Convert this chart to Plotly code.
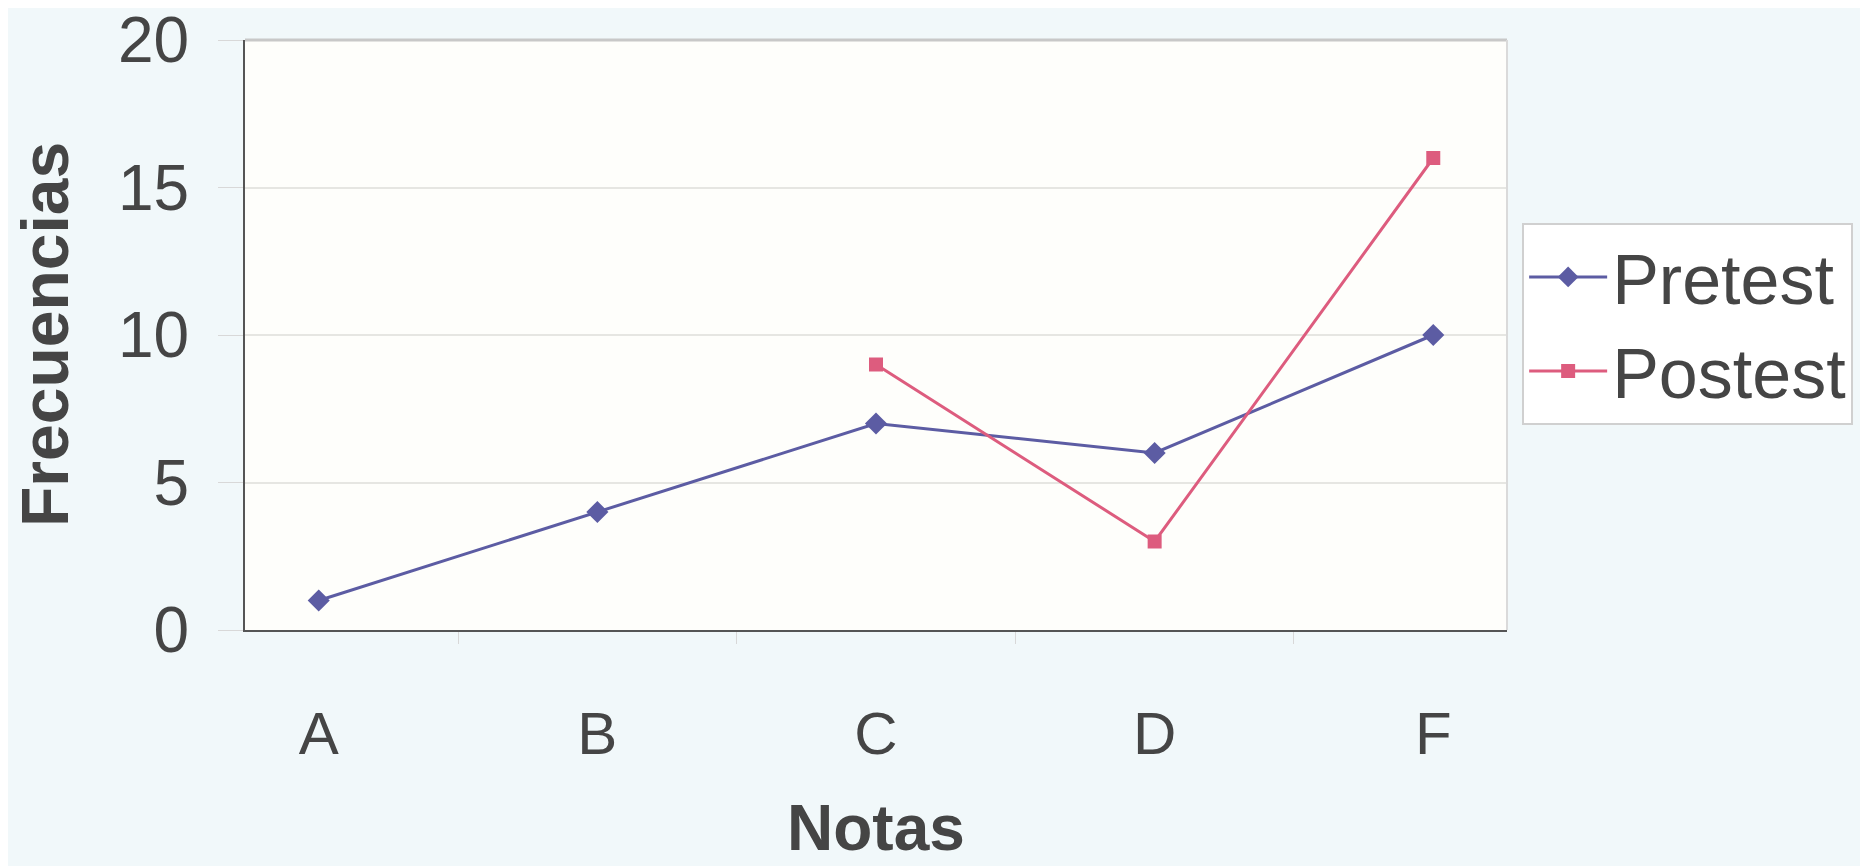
import plotly.graph_objects as go

categories = ["A", "B", "C", "D", "F"]
pretest = [1, 4, 7, 6, 10]
postest = [None, None, 9, 3, 16]
y_ticks = [0, 5, 10, 15, 20]

FONT = "Liberation Sans, Arial, sans-serif"
TXT = "#454545"

fig = go.Figure()
fig.add_trace(go.Scatter(
    x=categories, y=pretest, name="Pretest", mode="lines+markers",
    line=dict(color="#5C5CA3", width=3),
    marker=dict(symbol="diamond", size=17, color="#5C5CA3"),
))
fig.add_trace(go.Scatter(
    x=categories, y=postest, name="Postest", mode="lines+markers",
    line=dict(color="#DD5C7E", width=3),
    marker=dict(symbol="square", size=14, color="#DD5C7E"),
))

fig.update_layout(
    width=1860, height=858,
    margin=dict(l=237, r=361, t=32, b=236, autoexpand=False),
    paper_bgcolor="#F1F8FA",
    plot_bgcolor="#FEFEFB",
    font=dict(family=FONT, color=TXT, size=60),
    showlegend=True,
    legend=dict(
        x=1.012, y=0.69, xanchor="left", yanchor="top",
        bgcolor="#FFFFFF", bordercolor="#D0D0D0", borderwidth=2,
        font=dict(size=70, color=TXT),
        itemwidth=78,
        tracegroupgap=0,
    ),
    xaxis=dict(
        type="category", categoryorder="array", categoryarray=categories,
        showgrid=False, showline=True, linecolor="#555555", linewidth=2,
        ticks="outside", tickson="boundaries", ticklen=12, tickcolor="#D8D8D8",
        tickfont=dict(size=60, color=TXT), ticklabelstandoff=50,
        mirror=False, zeroline=False, automargin=False,
    ),
    yaxis=dict(
        range=[0, 20], tickvals=y_ticks, ticktext=[str(v) for v in y_ticks],
        showgrid=True, gridcolor="#E6E6E2", gridwidth=2,
        showline=True, linecolor="#555555", linewidth=2,
        ticks="outside", ticklen=25, tickcolor="#D8D8D8",
        tickfont=dict(size=64, color=TXT), ticklabelstandoff=16,
        ticklabeloverflow="allow",
        zeroline=False, automargin=False,
    ),
    annotations=[
        dict(text="<b>Notas</b>", xref="paper", yref="paper", x=0.5, y=-0.335,
             xanchor="center", yanchor="middle", showarrow=False,
             font=dict(size=64, color=TXT)),
        dict(text="<b>Frecuencias</b>", xref="paper", yref="paper",
             x=-200 / 1262, y=0.5, xanchor="center", yanchor="middle",
             textangle=-90, showarrow=False, font=dict(size=66, color=TXT)),
    ],
    shapes=[
        dict(type="line", xref="paper", yref="paper", x0=0, x1=1, y0=1, y1=1,
             line=dict(color="#C8C8C8", width=3)),
        dict(type="line", xref="paper", yref="paper", x0=1, x1=1, y0=0, y1=1,
             line=dict(color="#DADADA", width=2)),
    ],
)

fig.write_html("out.html")
